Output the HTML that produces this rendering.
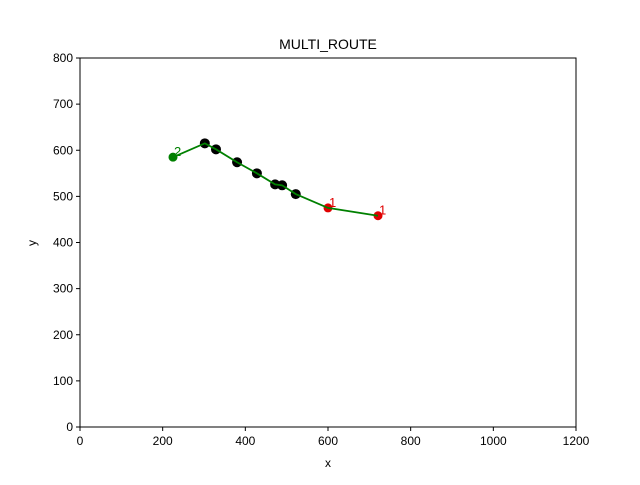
<!DOCTYPE html>
<html><head><meta charset="utf-8"><style>body{margin:0;background:#fff}svg text{font-family:"Liberation Sans",sans-serif}</style></head>
<body>
<svg id="c" width="640" height="480">
<text x="328" y="49" font-size="14" text-anchor="middle">MULTI_ROUTE</text>
<rect x="80" y="58" width="496" height="369" fill="none" stroke="#000" stroke-width="1"/>
<text x="328" y="467" font-size="12" text-anchor="middle">x</text>
<text x="36" y="243" font-size="12" text-anchor="middle" transform="rotate(-90 36 243)">y</text>
<g id="ax"></g><g id="marks"></g>
</svg>
<script>
const xTicks=[0,200,400,600,800,1000,1200];
const yTicks=[0,100,200,300,400,500,600,700,800];
const routeX=[225,302,329,380,428,472,489,522,600,721];
const routeY=[585,615,602,574,550,526,524,505,475,458];
const pointKind=['start','stop','stop','stop','stop','stop','stop','stop','end','end'];
const pointLabels=['2','','','','','','','','1','1'];
const X=v=>80+v/1200*496, Y=v=>427-v/800*369;
const ns='http://www.w3.org/2000/svg';
function mk(t,a,p){const e=document.createElementNS(ns,t);for(const k in a)e.setAttribute(k,a[k]);p.appendChild(e);return e;}
const ax=document.getElementById('ax'), mg=document.getElementById('marks');
xTicks.forEach(v=>{
 const l=mk('line',{x1:X(v),x2:X(v),y1:427,y2:431,stroke:'#000'},ax);
 
 
 const t=mk('text',{x:X(v),y:445,'font-size':12,'text-anchor':'middle'},ax);t.textContent=v;
 
 
});
yTicks.forEach(v=>{
 const l=mk('line',{x1:76,x2:80,y1:Y(v),y2:Y(v),stroke:'#000'},ax);
 
 
 const t=mk('text',{x:73,y:Y(v)+4,'font-size':12,'text-anchor':'end'},ax);t.textContent=v;
 
 
});
routeX.forEach((v,i)=>{
 const c=pointKind[i]==='start'?'green':pointKind[i]==='end'?'#e00000':'#000';
 const p=mk('circle',{cx:X(v),cy:Y(routeY[i]),r:pointKind[i]==='stop'?5:4.5,fill:c},mg);
 
 
});
const pl=mk('polyline',{points:routeX.map((v,i)=>X(v)+','+Y(routeY[i])).join(' '),fill:'none',stroke:'green','stroke-width':1.8},mg);


routeX.forEach((v,i)=>{
 if(!pointLabels[i])return;
 const t=mk('text',{x:X(v)+1,y:Y(routeY[i])-1,'font-size':13,fill:pointKind[i]==='start'?'green':'#e00000'},mg);
 t.textContent=pointLabels[i];
 
 
});
</script>
</body></html>
